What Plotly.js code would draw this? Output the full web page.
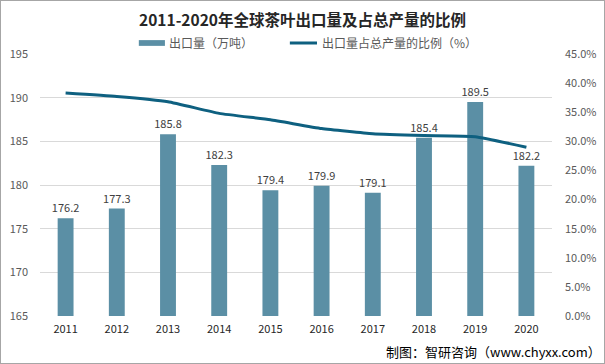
<!DOCTYPE html>
<html><head><meta charset="utf-8">
<script src="https://cdn.plot.ly/plotly-3.0.1.min.js"></script>
<style>html,body{margin:0;padding:0;background:#fff}#c{width:605px;height:364px}
#frame{position:absolute;left:0;top:0;width:603px;height:362px;border:1px solid #a6a6a6;pointer-events:none}</style>
</head><body><div id="c"></div><div id="frame"></div>
<script>
const years = ['2011','2012','2013','2014','2015','2016','2017','2018','2019','2020'];
const exportVolume = [176.2,177.3,185.8,182.3,179.4,179.9,179.1,185.4,189.5,182.2];
const exportShare = [38.3,37.7,36.8,34.8,33.7,32.2,31.3,31.0,30.8,29.0];
const leftTicks = [165,170,175,180,185,190,195];
const rightTicks = [0,5,10,15,20,25,30,35,40,45];
const seriesNames = ['出口量（万吨）','出口量占总产量的比例（%）'];

const barColor = '#5B8FA5', lineColor = '#0E6080';
const font = "'Microsoft YaHei','Noto Sans CJK SC','DejaVu Sans',sans-serif";
const data = [
  {type:'bar', x:years, y:exportVolume, name:seriesNames[0], marker:{color:barColor}, width:0.31,
   text:exportVolume.map(v=>v.toFixed(1)), textposition:'outside', cliponaxis:false, constraintext:'none',
   textfont:{size:11,color:'#404040',family:font}},
  {type:'scatter', mode:'lines', x:years, y:exportShare, yaxis:'y2', name:seriesNames[1],
   line:{color:lineColor, width:3, shape:'spline', smoothing:0.4}}
];
const layout = {
  width:605, height:364, margin:{l:40,r:53,t:54,b:48},
  paper_bgcolor:'#fff', plot_bgcolor:'#fff',
  font:{family:font, size:11, color:'#595959'},
  title:{text:'<b>2011-2020年全球茶叶出口量及占总产量的比例</b>', x:0.5, xanchor:'center', y:1-21/364, yanchor:'middle',
    font:{size:15.5, color:'#262626', family:font}},
  showlegend:false,
  xaxis:{type:'category', showgrid:false, showline:false, ticks:'', tickfont:{size:11,color:'#262626'}, ticklabelstandoff:5},
  yaxis:{range:[165,195], tickvals:leftTicks, ticktext:leftTicks.map(String), showgrid:true, gridcolor:'#d9d9d9', gridwidth:1,
    zeroline:false, showline:false, ticks:'', tickfont:{size:11,color:'#595959'}, ticklabelstandoff:11},
  yaxis2:{overlaying:'y', side:'right', range:[0,45], tickvals:rightTicks, ticktext:rightTicks.map(v=>v.toFixed(1)+'%'),
    showgrid:false, zeroline:false, showline:false, ticks:'', tickfont:{size:11,color:'#595959'}, ticklabelstandoff:12},
  shapes:[
    {type:'rect', xref:'paper', yref:'paper', x0:0.193, x1:0.244, y0:1.031, y1:1.053, fillcolor:barColor, line:{width:0}},
    {type:'line', xref:'paper', yref:'paper', x0:0.488, x1:0.541, y0:1.042, y1:1.042, line:{color:lineColor, width:3}}
  ],
  annotations:[
    {text:seriesNames[0], xref:'paper', yref:'paper', x:0.248, xanchor:'left', y:1.042, yanchor:'middle', showarrow:false,
     font:{size:12,color:'#595959',family:font}},
    {text:seriesNames[1], xref:'paper', yref:'paper', x:0.547, xanchor:'left', y:1.042, yanchor:'middle', showarrow:false,
     font:{size:12,color:'#595959',family:font}},
    {text:'制图：智研咨询（www.chyxx.com）', xref:'paper', yref:'paper', x:1.1, xanchor:'right', y:-0.137, yanchor:'middle',
    showarrow:false, font:{size:13,color:'#000',family:font}}]
};
Plotly.newPlot('c', data, layout, {displayModeBar:false, staticPlot:true});
</script></body></html>
